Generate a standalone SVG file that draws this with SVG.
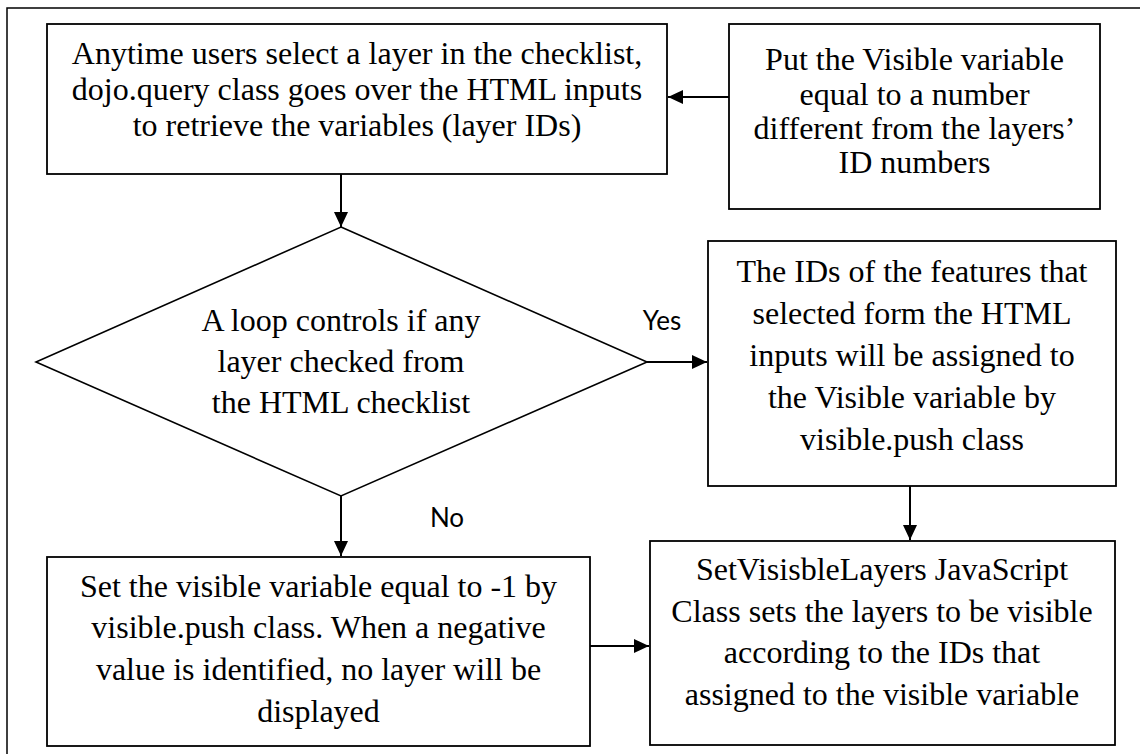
<svg xmlns="http://www.w3.org/2000/svg" width="1140" height="754" viewBox="0 0 1140 754">
<style>
.box{fill:#fff;stroke:#000;stroke-width:1.8}
.dia{fill:#fff;stroke:#000;stroke-width:1.6}
.t{font-family:"Liberation Serif","Times New Roman",serif;font-size:32px;fill:#000;text-anchor:middle}
.lbl{font-family:Lato,"Open Sans",sans-serif;font-size:26px;fill:#000;text-anchor:middle}
.con{stroke:#000;stroke-width:2;fill:none;marker-end:url(#ah)}
</style>
<defs>
<marker id="ah" markerUnits="userSpaceOnUse" markerWidth="15" markerHeight="14" refX="15" refY="7" orient="auto">
<path d="M0,0 L15,7 L0,14 z" fill="#000"/>
</marker>
</defs>
<rect width="1140" height="754" fill="#fff"/>
<rect id="frame" x="7" y="8" width="1150" height="770" fill="none" stroke="#000" stroke-width="1.5"/>
<g id="n1">
<rect class="box" x="47" y="24" width="620" height="150"/>
<text class="t" x="357" y="64">Anytime users select a layer in the checklist,</text>
<text class="t" x="357" y="100">dojo.query class goes over the HTML inputs</text>
<text class="t" x="357" y="136">to retrieve the variables (layer IDs)</text>
</g>
<g id="n2">
<rect class="box" x="729" y="24" width="371" height="185"/>
<text class="t" x="914.5" y="70">Put the Visible variable</text>
<text class="t" x="914.5" y="105">equal to a number</text>
<text class="t" x="914.5" y="139">different from the layers’</text>
<text class="t" x="914.5" y="173">ID numbers</text>
</g>
<g id="n3">
<polygon class="dia" points="341,227 647,362 341,496 36,362"/>
<text class="t" x="341" y="331">A loop controls if any</text>
<text class="t" x="341" y="372">layer checked from</text>
<text class="t" x="341" y="413">the HTML checklist</text>
</g>
<g id="n4">
<rect class="box" x="708" y="241" width="408" height="245"/>
<text class="t" x="912" y="282">The IDs of the features that</text>
<text class="t" x="912" y="324">selected form the HTML</text>
<text class="t" x="912" y="366">inputs will be assigned to</text>
<text class="t" x="912" y="408">the Visible variable by</text>
<text class="t" x="912" y="450">visible.push class</text>
</g>
<g id="n5">
<rect class="box" x="47" y="557" width="543" height="189"/>
<text class="t" x="318.5" y="597">Set the visible variable equal to -1 by</text>
<text class="t" x="318.5" y="638">visible.push class. When a negative</text>
<text class="t" x="318.5" y="680">value is identified, no layer will be</text>
<text class="t" x="318.5" y="722">displayed</text>
</g>
<g id="n6">
<rect class="box" x="650" y="541" width="465" height="204"/>
<text class="t" x="882" y="580">SetVisisbleLayers JavaScript</text>
<text class="t" x="882" y="622">Class sets the layers to be visible</text>
<text class="t" x="882" y="663">according to the IDs that</text>
<text class="t" x="882" y="705">assigned to the visible variable</text>
</g>
<g id="connectors">
<line class="con" x1="729" y1="97" x2="668" y2="97"/>
<line class="con" x1="341" y1="174" x2="341" y2="227"/>
<line class="con" x1="647" y1="362" x2="707" y2="362"/>
<line class="con" x1="341" y1="496" x2="341" y2="556"/>
<line class="con" x1="910" y1="486" x2="910" y2="540"/>
<line class="con" x1="590" y1="646" x2="649" y2="646"/>
<text class="lbl" x="662" y="330">Yes</text>
<text class="lbl" x="447" y="527">No</text>
</g>
</svg>
